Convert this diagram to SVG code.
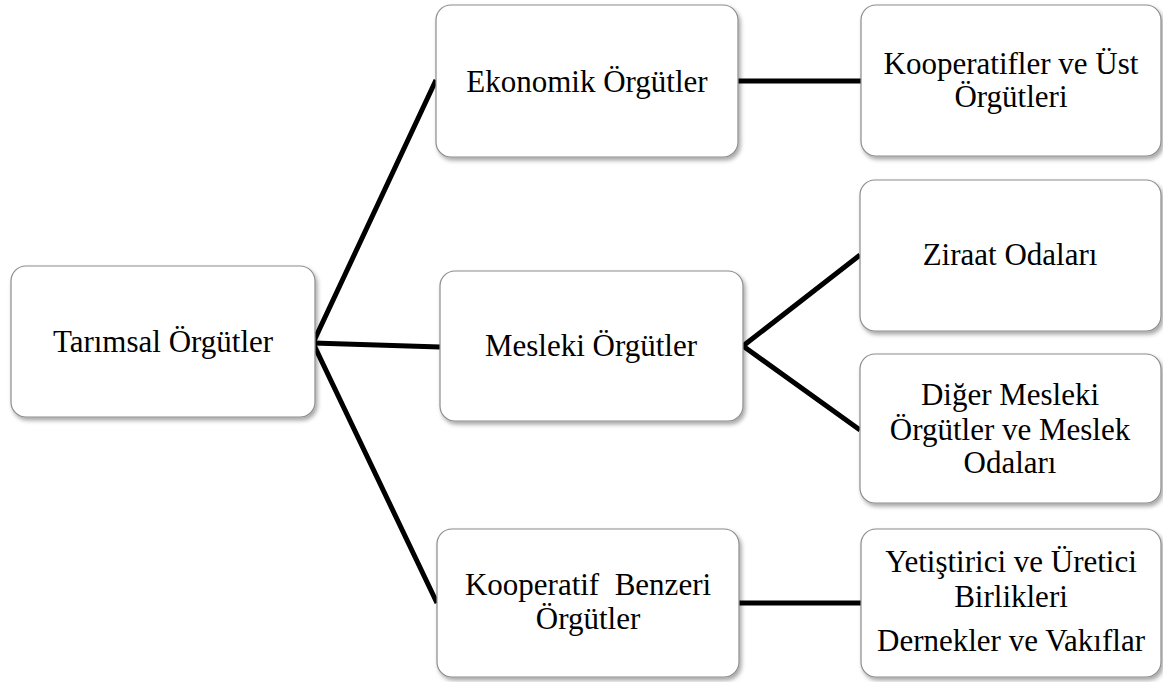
<svg xmlns="http://www.w3.org/2000/svg" width="1163" height="682" viewBox="0 0 1163 682">
<style>
.box{fill:#fff;stroke:#8c8c8c;stroke-width:1.2;filter:url(#sh)}
.t{font-family:"Liberation Serif","Times New Roman",serif;font-size:31px;fill:#000;text-anchor:middle}
.c{stroke:#000;stroke-width:5;fill:none;stroke-linecap:butt;stroke-linejoin:miter}
</style>
<defs>
<filter id="sh" x="-10%" y="-10%" width="125%" height="130%">
<feDropShadow dx="2" dy="3" stdDeviation="2" flood-color="#000" flood-opacity="0.35"/>
</filter>
</defs>
<rect width="1163" height="682" fill="#fff"/>
<g id="connectors">
<polyline class="c" points="436,80 313,343 437,603"/>
<line class="c" x1="313" y1="343" x2="440" y2="347"/>
<line class="c" x1="738" y1="81" x2="861" y2="81"/>
<polyline class="c" points="860,255 743,346 860,430"/>
<line class="c" x1="739" y1="603" x2="861" y2="603"/>
</g>
<g id="n-tarimsal">
<rect class="box" x="11" y="266" width="304" height="151" rx="15"/>
<text class="t" x="163" y="352">Tarımsal Örgütler</text>
</g>
<g id="n-ekonomik">
<rect class="box" x="436" y="5" width="302" height="152" rx="15"/>
<text class="t" x="587" y="92">Ekonomik Örgütler</text>
</g>
<g id="n-mesleki">
<rect class="box" x="440" y="271" width="303" height="150" rx="15"/>
<text class="t" x="591" y="356">Mesleki Örgütler</text>
</g>
<g id="n-benzeri">
<rect class="box" x="437" y="529" width="302" height="148" rx="15"/>
<text class="t" x="588" y="595">Kooperatif&#160; Benzeri</text>
<text class="t" x="588" y="629">Örgütler</text>
</g>
<g id="n-kooperatifler">
<rect class="box" x="861" y="5" width="300" height="151" rx="15"/>
<text class="t" x="1011" y="74">Kooperatifler ve Üst</text>
<text class="t" x="1011" y="107">Örgütleri</text>
</g>
<g id="n-ziraat">
<rect class="box" x="860" y="180" width="301" height="151" rx="15"/>
<text class="t" x="1010" y="265">Ziraat Odaları</text>
</g>
<g id="n-diger">
<rect class="box" x="860" y="354" width="301" height="149" rx="15"/>
<text class="t" x="1010" y="405">Diğer Mesleki</text>
<text class="t" x="1010" y="440">Örgütler ve Meslek</text>
<text class="t" x="1010" y="473">Odaları</text>
</g>
<g id="n-yetistirici">
<rect class="box" x="861" y="529" width="300" height="148" rx="15"/>
<text class="t" x="1011" y="572">Yetiştirici ve Üretici</text>
<text class="t" x="1011" y="607">Birlikleri</text>
<text class="t" x="1011" y="651">Dernekler ve Vakıflar</text>
</g>
</svg>
